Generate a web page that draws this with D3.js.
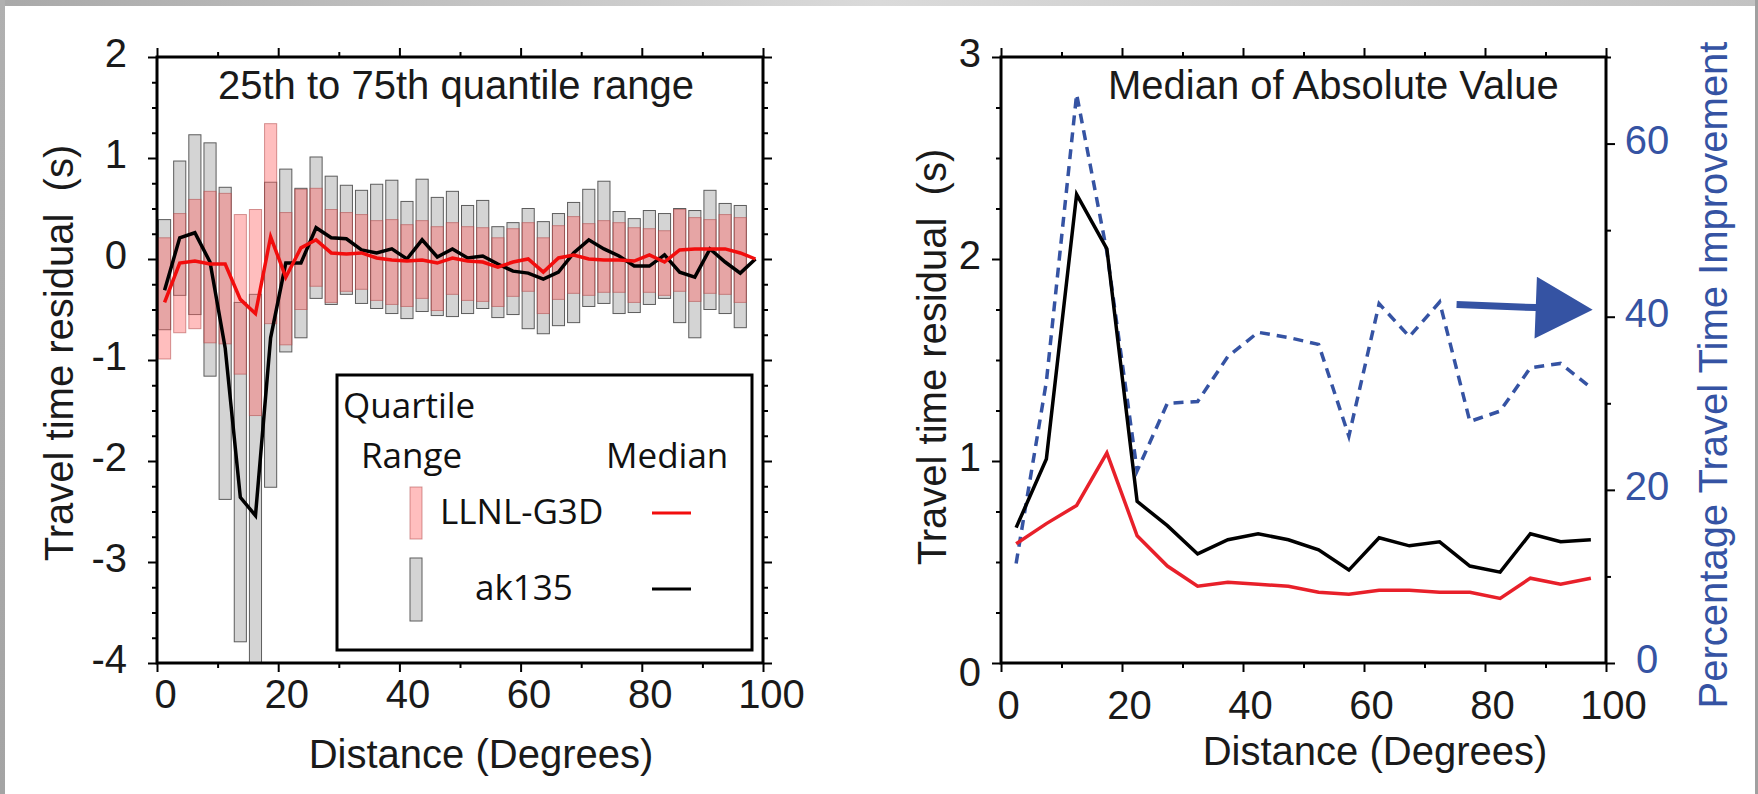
<!DOCTYPE html>
<meta charset="utf-8">
<style>

body {
  margin: 0;
  background: #fff;
}

svg {
  display: block;
  font-family: "Liberation Sans", Arial, Helvetica, sans-serif;
}

.frame {
  fill: none;
  stroke: #000;
  stroke-width: 3px;
}

.tick line {
  stroke: #000;
  stroke-width: 2px;
}

.tick text {
  font-size: 40px;
  fill: #1a1a1a;
}

.label {
  font-size: 40px;
  fill: #1a1a1a;
  white-space: pre;
}

.legend text {
  font-family: "Open Sans", sans-serif;
  font-size: 35px;
  fill: #111;
}

.q-ak {
  fill: #d4d4d4;
  stroke: #5c5c5c;
  stroke-width: 1px;
}

.q-ll {
  fill: rgb(255, 105, 105);
  fill-opacity: 0.43;
  stroke: #b04848;
  stroke-opacity: 0.55;
  stroke-width: 1px;
}

.med {
  fill: none;
  stroke-width: 3.5px;
  stroke-linejoin: miter;
}

.blue {
  fill: #3553a3;
}

</style>
<svg width="1758" height="794"></svg>
<script src="https://d3js.org/d3.v7.min.js"></script>
<script>

// left panel: 2.5 degree bins
var binDist = [1.25, 3.75, 6.25, 8.75, 11.25, 13.75, 16.25, 18.75, 21.25, 23.75,
  26.25, 28.75, 31.25, 33.75, 36.25, 38.75, 41.25, 43.75, 46.25, 48.75,
  51.25, 53.75, 56.25, 58.75, 61.25, 63.75, 66.25, 68.75, 71.25, 73.75,
  76.25, 78.75, 81.25, 83.75, 86.25, 88.75, 91.25, 93.75, 96.25, 98.75];

var akQ25 = [-0.70, -0.36, -0.55, -1.16, -2.38, -3.79, -4.0, -2.26, -0.92, -0.78,
  -0.39, -0.45, -0.35, -0.44, -0.49, -0.54, -0.59, -0.52, -0.56, -0.57,
  -0.54, -0.49, -0.58, -0.55, -0.69, -0.74, -0.66, -0.63, -0.47, -0.44,
  -0.54, -0.53, -0.45, -0.39, -0.63, -0.78, -0.50, -0.54, -0.68];
var akQ75 = [0.39, 0.97, 1.23, 1.15, 0.71, -0.43, -0.35, 0.76, 0.89, 0.70,
  1.01, 0.82, 0.73, 0.68, 0.74, 0.78, 0.57, 0.79, 0.61, 0.67,
  0.53, 0.58, 0.32, 0.36, 0.50, 0.37, 0.45, 0.56, 0.69, 0.77,
  0.47, 0.40, 0.48, 0.45, 0.50, 0.48, 0.68, 0.55, 0.53];

var llQ25 = [-0.99, -0.73, -0.69, -0.83, -0.84, -1.14, -1.55, -0.64, -0.85, -0.50,
  -0.27, -0.43, -0.32, -0.30, -0.41, -0.45, -0.47, -0.39, -0.51, -0.35,
  -0.41, -0.42, -0.47, -0.37, -0.32, -0.54, -0.40, -0.34, -0.36, -0.33,
  -0.33, -0.43, -0.33, -0.36, -0.32, -0.42, -0.34, -0.35, -0.43];
var llQ75 = [0.21, 0.45, 0.59, 0.67, 0.65, 0.44, 0.49, 1.34, 0.46, 0.69,
  0.70, 0.49, 0.46, 0.44, 0.38, 0.39, 0.34, 0.38, 0.32, 0.36,
  0.32, 0.31, 0.21, 0.30, 0.36, 0.21, 0.33, 0.42, 0.35, 0.38,
  0.36, 0.31, 0.30, 0.28, 0.49, 0.41, 0.39, 0.44, 0.41];

var akMedian = [-0.31, 0.21, 0.26, -0.03, -0.88, -2.36, -2.54, -0.78, -0.04, -0.04,
  0.31, 0.21, 0.20, 0.09, 0.06, 0.10, 0.00, 0.19, 0.02, 0.10,
  0.01, 0.03, -0.05, -0.12, -0.14, -0.20, -0.13, 0.06, 0.19, 0.10,
  0.03, -0.07, -0.07, 0.04, -0.13, -0.18, 0.10, -0.03, -0.14, 0.00];
var llMedian = [-0.43, -0.04, -0.02, -0.05, -0.05, -0.40, -0.54, 0.22, -0.18, 0.11,
  0.19, 0.06, 0.05, 0.06, 0.01, -0.01, -0.02, -0.01, -0.04, 0.01,
  -0.02, -0.03, -0.08, -0.03, 0.00, -0.13, 0.01, 0.04, 0.00, -0.01,
  -0.01, -0.02, 0.04, -0.03, 0.09, 0.10, 0.10, 0.10, 0.06, 0.00];

// right panel: 5 degree bins
var absDist = [2.5, 7.5, 12.5, 17.5, 22.5, 27.5, 32.5, 37.5, 42.5, 47.5,
  52.5, 57.5, 62.5, 67.5, 72.5, 77.5, 82.5, 87.5, 92.5, 97.5];
var akAbs = [0.67, 1.01, 2.32, 2.05, 0.80, 0.68, 0.54, 0.61, 0.64, 0.61,
  0.56, 0.46, 0.62, 0.58, 0.60, 0.48, 0.45, 0.64, 0.60, 0.61];
var llAbs = [0.59, 0.69, 0.78, 1.04, 0.63, 0.48, 0.38, 0.40, 0.39, 0.38,
  0.35, 0.34, 0.36, 0.36, 0.35, 0.35, 0.32, 0.42, 0.39, 0.42];
var improvement = [11.5, 32.5, 65.7, 47.5, 22.2, 30.0, 30.2, 35.4, 38.2, 37.6,
  36.8, 26.2, 41.5, 37.7, 41.7, 27.9, 29.1, 34.1, 34.6, 31.8];

// arrow pointing at the percentage axis (distance, percent)
var arrowFrom = [75.3, 41.4],
    arrowTo = [97.8, 40.8];

var distTicks = [0, 20, 40, 60, 80, 100],
    distMinor = [10, 30, 50, 70, 90],
    residTicks = [-4, -3, -2, -1, 0, 1, 2],
    absTicks = [0, 1, 2, 3],
    pctTicks = [0, 20, 40, 60],
    pctMinor = [10, 30, 50, 70];

var svg = d3.select("svg"),
    width = +svg.attr("width"),
    height = +svg.attr("height");

var plain = function(d) { return String(d); };

// grey scan edges
var defs = svg.append("defs");
var tg = defs.append("linearGradient").attr("id", "topedge");
tg.append("stop").attr("offset", "0").attr("stop-color", "#a9a9a9");
tg.append("stop").attr("offset", "0.5").attr("stop-color", "#dadada");
tg.append("stop").attr("offset", "1").attr("stop-color", "#c2c2c2");
var lg = defs.append("linearGradient").attr("id", "leftedge")
    .attr("x1", 0).attr("y1", 0).attr("x2", 0).attr("y2", 1);
lg.append("stop").attr("offset", "0").attr("stop-color", "#b0b0b0");
lg.append("stop").attr("offset", "1").attr("stop-color", "#a4a4a4");

svg.append("rect").attr("width", width).attr("height", 6).attr("fill", "url(#topedge)");
svg.append("rect").attr("width", 5).attr("height", height).attr("fill", "url(#leftedge)");
svg.append("rect").attr("x", width - 3).attr("width", 3).attr("height", height).attr("fill", "#a0a0a0");

function minorOf(t, step) {
  return d3.range(t[0], t[t.length - 1] + 1e-9, step)
      .filter(function(v) { return t.indexOf(+v.toFixed(4)) < 0; });
}

function axis(g, a) {
  g.call(a);
  g.select(".domain").remove();
  return g;
}

// ---------------- left panel ----------------

var x1 = d3.scaleLinear().domain([0, 100]).range([157, 763]),
    y1 = d3.scaleLinear().domain([-4, 2]).range([663, 57]);

defs.append("clipPath").attr("id", "clip1")
  .append("rect")
    .attr("x", x1(0)).attr("y", y1(2))
    .attr("width", x1(100) - x1(0)).attr("height", y1(-4) - y1(2));

var bars = binDist.slice(0, akQ25.length).map(function(d, i) {
  return {d: d, a0: akQ25[i], a1: akQ75[i], l0: llQ25[i], l1: llQ75[i]};
});
var bw = x1(2) - x1(0);

var p1 = svg.append("g").attr("clip-path", "url(#clip1)");

p1.selectAll(".q-ak")
  .data(bars)
  .enter().append("rect")
    .attr("class", "q-ak")
    .attr("x", function(b) { return x1(b.d) - bw / 2; })
    .attr("y", function(b) { return y1(b.a1); })
    .attr("width", bw)
    .attr("height", function(b) { return y1(b.a0) - y1(b.a1); });

p1.selectAll(".q-ll")
  .data(bars)
  .enter().append("rect")
    .attr("class", "q-ll")
    .attr("x", function(b) { return x1(b.d) - bw / 2; })
    .attr("y", function(b) { return y1(b.l1); })
    .attr("width", bw)
    .attr("height", function(b) { return y1(b.l0) - y1(b.l1); });

var line1 = d3.line()
    .x(function(d) { return x1(d[0]); })
    .y(function(d) { return y1(d[1]); });

p1.append("path")
    .datum(d3.zip(binDist, akMedian))
    .attr("class", "med")
    .attr("stroke", "#000")
    .attr("d", line1);

p1.append("path")
    .datum(d3.zip(binDist, llMedian))
    .attr("class", "med")
    .attr("stroke", "#f20d0d")
    .attr("d", line1);

// ticks
var residMinor = minorOf(residTicks, 0.25);

axis(svg.append("g").attr("transform", "translate(0," + y1(-4) + ")"),
    d3.axisBottom(x1).tickValues(distTicks).tickSize(9).tickFormat(plain))
  .selectAll("text").attr("y", 45).attr("dy", 0).attr("dx", 8);
axis(svg.append("g").attr("transform", "translate(0," + y1(-4) + ")"),
    d3.axisBottom(x1).tickValues(distMinor).tickSize(5).tickFormat(""));
axis(svg.append("g").attr("transform", "translate(0," + y1(2) + ")"),
    d3.axisTop(x1).tickValues(distTicks).tickSize(9).tickFormat(""));
axis(svg.append("g").attr("transform", "translate(0," + y1(2) + ")"),
    d3.axisTop(x1).tickValues(distMinor).tickSize(5).tickFormat(""));

axis(svg.append("g").attr("transform", "translate(" + x1(0) + ",0)"),
    d3.axisLeft(y1).tickValues(residTicks).tickSize(9).tickPadding(21).tickFormat(plain))
  .selectAll("text").attr("dy", 9.5);
axis(svg.append("g").attr("transform", "translate(" + x1(0) + ",0)"),
    d3.axisLeft(y1).tickValues(residMinor).tickSize(5).tickFormat(""));
axis(svg.append("g").attr("transform", "translate(" + x1(100) + ",0)"),
    d3.axisRight(y1).tickValues(residTicks).tickSize(9).tickFormat(""));
axis(svg.append("g").attr("transform", "translate(" + x1(100) + ",0)"),
    d3.axisRight(y1).tickValues(residMinor).tickSize(5).tickFormat(""));

svg.append("rect")
    .attr("class", "frame")
    .attr("x", x1(0)).attr("y", y1(2))
    .attr("width", x1(100) - x1(0)).attr("height", y1(-4) - y1(2));

svg.append("text")
    .attr("class", "label")
    .attr("x", 218).attr("y", 99)
    .text("25th to 75th quantile range");

svg.append("text")
    .attr("class", "label")
    .attr("x", 481).attr("y", 768)
    .attr("text-anchor", "middle")
    .text("Distance (Degrees)");

svg.append("text")
    .attr("class", "label")
    .attr("transform", "translate(73,353) rotate(-90)")
    .attr("text-anchor", "middle")
    .text("Travel time residual  (s)");

// legend
var leg = svg.append("g").attr("class", "legend");
leg.append("rect")
    .attr("x", 337).attr("y", 375).attr("width", 415).attr("height", 275)
    .attr("fill", "#fff").attr("stroke", "#000").attr("stroke-width", 3);
leg.append("text").attr("x", 343).attr("y", 418).text("Quartile");
leg.append("text").attr("x", 361).attr("y", 468).text("Range");
leg.append("text").attr("x", 606).attr("y", 468).text("Median");
leg.append("rect").attr("class", "q-ll").attr("x", 410).attr("y", 487).attr("width", 12).attr("height", 52);
leg.append("text").attr("x", 440).attr("y", 524).text("LLNL-G3D");
leg.append("line").attr("x1", 652).attr("x2", 691).attr("y1", 513).attr("y2", 513)
    .attr("stroke", "#f20d0d").attr("stroke-width", 3);
leg.append("rect").attr("class", "q-ak").attr("x", 410).attr("y", 558).attr("width", 12).attr("height", 63);
leg.append("text").attr("x", 475).attr("y", 600).text("ak135");
leg.append("line").attr("x1", 652).attr("x2", 691).attr("y1", 589).attr("y2", 589)
    .attr("stroke", "#000").attr("stroke-width", 3);

// ---------------- right panel ----------------

var x2 = d3.scaleLinear().domain([0, 100]).range([1001, 1606]),
    y2 = d3.scaleLinear().domain([0, 3]).range([663, 57]),
    yp = d3.scaleLinear().domain([0, 70]).range([663, 57]);

var blue = "#3553a3";

svg.append("path")
    .datum(d3.zip(absDist, improvement))
    .attr("class", "med")
    .attr("stroke", blue)
    .attr("stroke-width", 3.5)
    .attr("stroke-dasharray", "10,7")
    .attr("d", d3.line().x(function(d) { return x2(d[0]); }).y(function(d) { return yp(d[1]); }));

var line2 = d3.line()
    .x(function(d) { return x2(d[0]); })
    .y(function(d) { return y2(d[1]); });

svg.append("path")
    .datum(d3.zip(absDist, akAbs))
    .attr("class", "med")
    .attr("stroke", "#000")
    .attr("stroke-width", 3)
    .attr("d", line2);

svg.append("path")
    .datum(d3.zip(absDist, llAbs))
    .attr("class", "med")
    .attr("stroke", "#e8202a")
    .attr("stroke-width", 3)
    .attr("d", line2);

// arrow
(function() {
  var ax = x2(arrowFrom[0]), ay = yp(arrowFrom[1]),
      bx = x2(arrowTo[0]), by = yp(arrowTo[1]),
      len = Math.hypot(bx - ax, by - ay),
      ux = (bx - ax) / len, uy = (by - ay) / len,
      nx = -uy, ny = ux,
      head = 57, half = 31, shaft = 3.5,
      hx = bx - ux * head, hy = by - uy * head;
  var pts = [
    [ax + nx * shaft, ay + ny * shaft],
    [hx + nx * shaft, hy + ny * shaft],
    [hx + nx * half, hy + ny * half],
    [bx, by],
    [hx - nx * half, hy - ny * half],
    [hx - nx * shaft, hy - ny * shaft],
    [ax - nx * shaft, ay - ny * shaft]
  ];
  svg.append("path")
      .attr("class", "blue")
      .attr("d", "M" + pts.join("L") + "Z");
})();

var absMinor = minorOf(absTicks, 0.25);

axis(svg.append("g").attr("transform", "translate(0," + y2(0) + ")"),
    d3.axisBottom(x2).tickValues(distTicks).tickSize(9).tickFormat(plain))
  .selectAll("text").attr("y", 56).attr("dy", 0).attr("dx", 7);
axis(svg.append("g").attr("transform", "translate(0," + y2(0) + ")"),
    d3.axisBottom(x2).tickValues(distMinor).tickSize(5).tickFormat(""));
axis(svg.append("g").attr("transform", "translate(0," + y2(3) + ")"),
    d3.axisTop(x2).tickValues(distTicks).tickSize(9).tickFormat(""));
axis(svg.append("g").attr("transform", "translate(0," + y2(3) + ")"),
    d3.axisTop(x2).tickValues(distMinor).tickSize(5).tickFormat(""));

axis(svg.append("g").attr("transform", "translate(" + x2(0) + ",0)"),
    d3.axisLeft(y2).tickValues(absTicks).tickSize(9).tickPadding(11).tickFormat(plain))
  .selectAll("text").attr("dy", function(d) { return d === 0 ? 22 : 9; });
axis(svg.append("g").attr("transform", "translate(" + x2(0) + ",0)"),
    d3.axisLeft(y2).tickValues(absMinor).tickSize(5).tickFormat(""));

axis(svg.append("g").attr("transform", "translate(" + x2(100) + ",0)"),
    d3.axisRight(yp).tickValues(pctTicks).tickSize(9).tickFormat(plain))
  .selectAll("text")
    .attr("x", 41).attr("dy", 9.5)
    .attr("text-anchor", "middle")
    .style("fill", blue);
axis(svg.append("g").attr("transform", "translate(" + x2(100) + ",0)"),
    d3.axisRight(yp).tickValues(pctMinor).tickSize(5).tickFormat(""));

svg.append("rect")
    .attr("class", "frame")
    .attr("x", x2(0)).attr("y", y2(3))
    .attr("width", x2(100) - x2(0)).attr("height", y2(0) - y2(3));

svg.append("text")
    .attr("class", "label")
    .attr("x", 1108).attr("y", 99)
    .text("Median of Absolute Value");

svg.append("text")
    .attr("class", "label")
    .attr("x", 1375).attr("y", 765)
    .attr("text-anchor", "middle")
    .text("Distance (Degrees)");

svg.append("text")
    .attr("class", "label")
    .attr("transform", "translate(946,357) rotate(-90)")
    .attr("text-anchor", "middle")
    .text("Travel time residual  (s)");

svg.append("text")
    .attr("class", "label")
    .attr("transform", "translate(1727,375) rotate(-90)")
    .attr("text-anchor", "middle")
    .style("fill", blue)
    .text("Percentage Travel Time Improvement");

</script>
